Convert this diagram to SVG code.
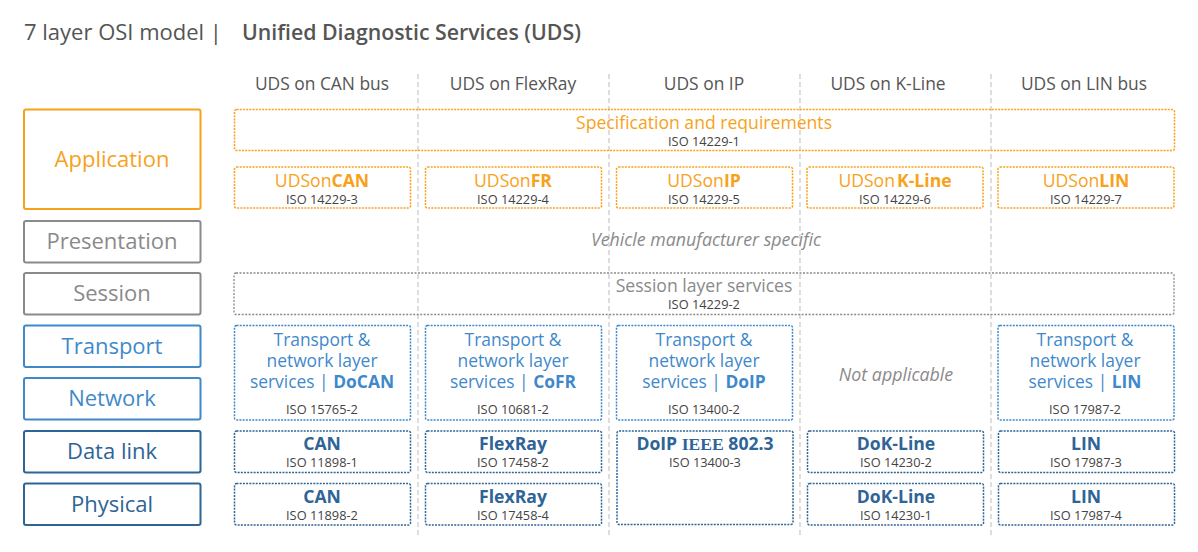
<svg xmlns="http://www.w3.org/2000/svg" width="1198" height="552" viewBox="0 0 1198 552">
<style>
text{font-family:"Open Sans","Noto Sans","Liberation Sans",sans-serif;text-anchor:middle}
.title{font-size:22px;fill:#555;text-anchor:start}
.hdr{font-size:17.4px;fill:#555}
.lay{fill:#fff;stroke-width:2}
.lt{font-size:22px}
.or{fill:#f7a21b}
.gr{fill:#8a8a8a}
.bl{fill:#3f89cb}
.db{fill:#2f6496}
.ob{fill:none;stroke:#f7a21b;stroke-width:1.5;stroke-dasharray:2 1.2}
.gb{fill:none;stroke:#8a8a8a;stroke-width:1.3;stroke-dasharray:2 1.5}
.bb{fill:none;stroke:#3f89cb;stroke-width:1.5;stroke-dasharray:2 1.2}
.dbb{fill:none;stroke:#2f6496;stroke-width:1.5;stroke-dasharray:2 1.2}
.m{font-size:17.6px}
.tn{font-size:17.4px}
.iso{font-size:12.8px;fill:#444}
.it{font-style:italic;font-size:17.8px;fill:#8a8a8a}
.b{font-weight:700}
.sep{stroke:#cccccc;stroke-width:1.3;stroke-dasharray:5 3}
</style>
<text class="title" x="24" y="40">7 layer OSI model |  <tspan font-weight="600" font-size="21.3" x="242">Unified Diagnostic Services (UDS)</tspan></text>
<g id="separators">
<line class="sep" x1="418" y1="74" x2="418" y2="538"/>
<line class="sep" x1="609" y1="74" x2="609" y2="538"/>
<line class="sep" x1="800" y1="74" x2="800" y2="538"/>
<line class="sep" x1="991" y1="74" x2="991" y2="538"/>
</g>
<g id="headers">
<text class="hdr" x="322" y="90">UDS on CAN bus</text>
<text class="hdr" x="513" y="90">UDS on FlexRay</text>
<text class="hdr" x="704" y="90">UDS on IP</text>
<text class="hdr" x="888" y="90">UDS on K-Line</text>
<text class="hdr" x="1084" y="90">UDS on LIN bus</text>
</g>
<g id="layer-application"><rect class="lay" x="24" y="109.5" width="176.5" height="99.5" rx="2" stroke="#f7a21b"/><text class="lt or" x="112" y="167">Application</text></g>
<g id="layer-presentation"><rect class="lay" x="24" y="221" width="176.5" height="41.5" rx="2" stroke="#8a8a8a"/><text class="lt gr" x="112" y="249">Presentation</text></g>
<g id="layer-session"><rect class="lay" x="24" y="273" width="176.5" height="41.5" rx="2" stroke="#8a8a8a"/><text class="lt gr" x="112" y="301">Session</text></g>
<g id="layer-transport"><rect class="lay" x="24" y="325.5" width="176.5" height="41.5" rx="2" stroke="#3f89cb"/><text class="lt bl" x="112" y="354">Transport</text></g>
<g id="layer-network"><rect class="lay" x="24" y="378" width="176.5" height="41.5" rx="2" stroke="#3f89cb"/><text class="lt bl" x="112" y="406">Network</text></g>
<g id="layer-datalink"><rect class="lay" x="24" y="431" width="176.5" height="41.5" rx="2" stroke="#2f6496"/><text class="lt db" x="112" y="459">Data link</text></g>
<g id="layer-physical"><rect class="lay" x="24" y="483.5" width="176.5" height="41.5" rx="2" stroke="#2f6496"/><text class="lt db" x="112" y="512">Physical</text></g>

<g id="spec"><rect class="ob" x="234.5" y="109.5" width="940" height="41" rx="2"/><text class="m or" x="704" y="129">Specification and requirements</text><text class="iso" x="704" y="146">ISO 14229-1</text></g>
<g id="udsoncan"><rect class="ob" x="234.5" y="167" width="176" height="41" rx="2"/><text class="m or" x="322" y="187">UDSon<tspan class="b">CAN</tspan></text><text class="iso" x="322" y="204">ISO 14229-3</text></g>
<g id="udsonfr"><rect class="ob" x="425.5" y="167" width="176" height="41" rx="2"/><text class="m or" x="513" y="187">UDSon<tspan class="b">FR</tspan></text><text class="iso" x="513" y="204">ISO 14229-4</text></g>
<g id="udsonip"><rect class="ob" x="616.5" y="167" width="176" height="41" rx="2"/><text class="m or" x="704" y="187">UDSon<tspan class="b">IP</tspan></text><text class="iso" x="704" y="204">ISO 14229-5</text></g>
<g id="udsonkline"><rect class="ob" x="807" y="167" width="176" height="41" rx="2"/><text class="m or" x="895" y="187">UDSon<tspan class="b" dx="2">K-Line</tspan></text><text class="iso" x="895" y="204">ISO 14229-6</text></g>
<g id="udsonlin"><rect class="ob" x="998" y="167" width="176" height="41" rx="2"/><text class="m or" x="1086" y="187">UDSon<tspan class="b">LIN</tspan></text><text class="iso" x="1086" y="204">ISO 14229-7</text></g>

<g id="presentation-note"><text class="it" x="706" y="246">Vehicle manufacturer specific</text></g>
<g id="session-services"><rect class="gb" x="234" y="273" width="940" height="41.5" rx="2"/><text class="m gr" x="704" y="292">Session layer services</text><text class="iso" x="704" y="309">ISO 14229-2</text></g>

<g id="tn-can"><rect class="bb" x="234.5" y="325.5" width="176" height="94.5" rx="2"/><text class="tn bl" x="322" y="346">Transport &amp;</text><text class="tn bl" x="322" y="367">network layer</text><text class="tn bl" x="322" y="388">services | <tspan class="b">DoCAN</tspan></text><text class="iso" x="322" y="414">ISO 15765-2</text></g>
<g id="tn-fr"><rect class="bb" x="425.5" y="325.5" width="176" height="94.5" rx="2"/><text class="tn bl" x="513" y="346">Transport &amp;</text><text class="tn bl" x="513" y="367">network layer</text><text class="tn bl" x="513" y="388">services | <tspan class="b">CoFR</tspan></text><text class="iso" x="513" y="414">ISO 10681-2</text></g>
<g id="tn-ip"><rect class="bb" x="616.5" y="325.5" width="176" height="94.5" rx="2"/><text class="tn bl" x="704" y="346">Transport &amp;</text><text class="tn bl" x="704" y="367">network layer</text><text class="tn bl" x="704" y="388">services | <tspan class="b">DoIP</tspan></text><text class="iso" x="704" y="414">ISO 13400-2</text></g>
<g id="tn-kline"><text class="it" x="896" y="381">Not applicable</text></g>
<g id="tn-lin"><rect class="bb" x="998" y="325.5" width="176" height="94.5" rx="2"/><text class="tn bl" x="1085" y="346">Transport &amp;</text><text class="tn bl" x="1085" y="367">network layer</text><text class="tn bl" x="1085" y="388">services | <tspan class="b">LIN</tspan></text><text class="iso" x="1085" y="414">ISO 17987-2</text></g>

<g id="dl-can"><rect class="dbb" x="234.5" y="431" width="176" height="41.5" rx="2"/><text class="m db b" x="322" y="450">CAN</text><text class="iso" x="322" y="467">ISO 11898-1</text></g>
<g id="dl-fr"><rect class="dbb" x="425.5" y="431" width="176" height="41.5" rx="2"/><text class="m db b" x="513" y="450">FlexRay</text><text class="iso" x="513" y="467">ISO 17458-2</text></g>
<g id="dl-ip"><rect class="dbb" x="617" y="431" width="176" height="93.5" rx="2"/><text class="m db b" x="705" y="450">DoIP <tspan font-family="Liberation Serif,serif">IEEE</tspan> 802.3</text><text class="iso" x="705" y="467">ISO 13400-3</text></g>
<g id="dl-kline"><rect class="dbb" x="807.5" y="431" width="176" height="41.5" rx="2"/><text class="m db b" x="896" y="450">DoK-Line</text><text class="iso" x="896" y="467">ISO 14230-2</text></g>
<g id="dl-lin"><rect class="dbb" x="998.5" y="431" width="176" height="41.5" rx="2"/><text class="m db b" x="1086" y="450">LIN</text><text class="iso" x="1086" y="467">ISO 17987-3</text></g>

<g id="ph-can"><rect class="dbb" x="234.5" y="483.5" width="176" height="41.5" rx="2"/><text class="m db b" x="322" y="503">CAN</text><text class="iso" x="322" y="520">ISO 11898-2</text></g>
<g id="ph-fr"><rect class="dbb" x="425.5" y="483.5" width="176" height="41.5" rx="2"/><text class="m db b" x="513" y="503">FlexRay</text><text class="iso" x="513" y="520">ISO 17458-4</text></g>
<g id="ph-kline"><rect class="dbb" x="807.5" y="483.5" width="176" height="41.5" rx="2"/><text class="m db b" x="896" y="503">DoK-Line</text><text class="iso" x="896" y="520">ISO 14230-1</text></g>
<g id="ph-lin"><rect class="dbb" x="998.5" y="483.5" width="176" height="41.5" rx="2"/><text class="m db b" x="1086" y="503">LIN</text><text class="iso" x="1086" y="520">ISO 17987-4</text></g>
</svg>
